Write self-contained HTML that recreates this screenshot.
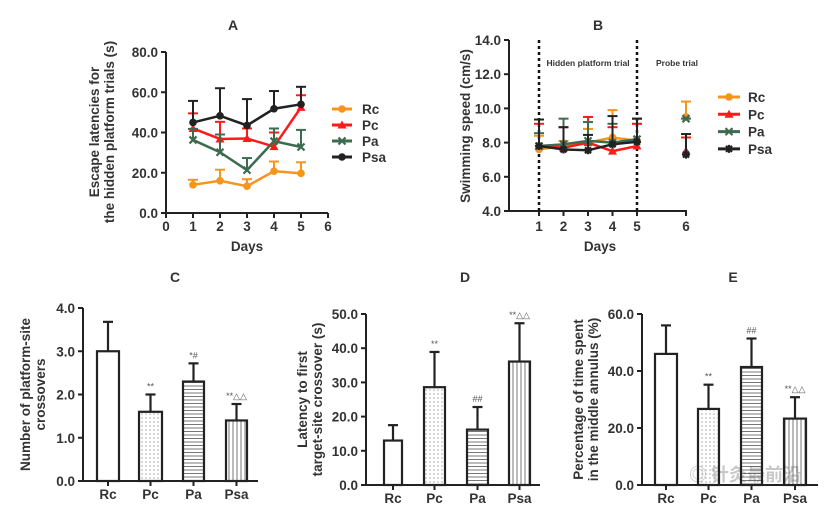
<!DOCTYPE html>
<html><head><meta charset="utf-8"><style>
html,body{margin:0;padding:0;background:#fff}
svg{display:block;font-family:"Liberation Sans",Arial,sans-serif;font-weight:bold}
</style></head><body>
<svg id="fig" width="837" height="512" viewBox="0 0 837 512">
<defs>
<pattern id="dots" width="4" height="4" patternUnits="userSpaceOnUse"><circle cx="2" cy="2" r="0.6" fill="#777"/></pattern>
<pattern id="hlines" width="4" height="3.5" patternUnits="userSpaceOnUse"><line x1="0" y1="1" x2="4" y2="1" stroke="#555" stroke-width="0.8"/></pattern>
<pattern id="vlines" width="4" height="4" patternUnits="userSpaceOnUse"><line x1="1" y1="0" x2="1" y2="4" stroke="#555" stroke-width="0.8"/></pattern>
</defs>
<text x="233" y="30" font-size="14" text-anchor="middle" fill="#333">A</text>
<text x="598" y="30" font-size="14" text-anchor="middle" fill="#333">B</text>
<text x="175" y="282" font-size="14" text-anchor="middle" fill="#333">C</text>
<text x="465" y="282" font-size="14" text-anchor="middle" fill="#333">D</text>
<text x="733" y="282" font-size="14" text-anchor="middle" fill="#333">E</text>
<text x="745" y="481" font-size="18" text-anchor="middle" fill="#bbb" opacity="0.8" font-family="'Noto Sans CJK SC',sans-serif">◎ 针灸最前沿</text>
</svg>
<script>
// ---------- Panel A data ----------
const aDays=[1,2,3,4,5];
const aRc=[14,16,13.3,20.8,19.7];
const aRcErr=[2.5,5.5,3.5,4.8,5.5];
const aPc=[42,36.8,37,33,52.5];
const aPcErr=[7.5,8.5,5,7,6];
const aPa=[36.3,30.2,21.3,35.7,32.8];
const aPaErr=[5.5,8.8,6,6.3,8.5];
const aPsa=[45,48.3,43.5,51.8,54];
const aPsaErr=[10.7,13.7,13.1,8.8,8.7];
const aYTicks=["0.0","20.0","40.0","60.0","80.0"];
const aXTicks=["0","1","2","3","4","5","6"];
// ---------- Panel B data ----------
const bDays=[1,2,3,4,5,6];
const bRc=[7.6,7.8,8.0,8.3,8.1,9.5];
const bRcErr=[0.8,0.3,0.8,1.6,1.0,0.9];
const bPc=[7.8,7.7,8.0,7.5,7.8,7.5];
const bPcErr=[1.3,1.2,1.5,1.4,1.3,0.8];
const bPa=[7.8,7.9,8.1,8.0,8.2,9.4];
const bPaErr=[0.75,1.5,1.1,1.1,1.2,0.0];
const bPsa=[7.8,7.6,7.55,7.9,8.05,7.3];
const bPsaErr=[1.55,1.3,0.9,1.65,1.35,1.2];
const bYTicks=["4.0","6.0","8.0","10.0","12.0","14.0"];
const bXTicks=["1","2","3","4","5","6"];
// ---------- Bar panels ----------
const groups=["Rc","Pc","Pa","Psa"];
const cVals=[3.0,1.6,2.3,1.4];
const cErr=[0.68,0.4,0.42,0.38];
const cSig=["","**","*#","**△△"];
const cTicks=["0.0","1.0","2.0","3.0","4.0"];
const dVals=[13,28.6,16.2,36.1];
const dErr=[4.5,10.3,6.6,11.2];
const dSig=["","**","##","**△△"];
const dTicks=["0.0","10.0","20.0","30.0","40.0","50.0"];
const eVals=[46,26.7,41.4,23.3];
const eErr=[10,8.5,10,7.5];
const eSig=["","**","##","**△△"];
const eTicks=["0.0","20.0","40.0","60.0"];

const NS="http://www.w3.org/2000/svg";
const svg=document.getElementById('fig');
function mk(tag,attrs,parent,name){const e=document.createElementNS(NS,tag);for(const k in attrs)e.setAttribute(k,attrs[k]);(parent||svg).appendChild(e);


return e;}
function txt(s,x,y,attrs,name){const t=mk('text',Object.assign({x:x,y:y,fill:'#333'},attrs||{}),null,name);t.textContent=s;return t;}
const AX='#222';
function marker(px,py,col,t,name){
 if(t==='circle')mk('circle',{cx:px,cy:py,r:3.8,fill:col},null,name);
 else if(t==='tri')mk('polygon',{points:`${px},${py-4.5} ${px-4.5},${py+3.5} ${px+4.5},${py+3.5}`,fill:col},null,name);
 else if(t==='x'){mk('path',{d:`M${px-3.5} ${py-3.5}L${px+3.5} ${py+3.5}M${px-3.5} ${py+3.5}L${px+3.5} ${py-3.5}`,stroke:col,'stroke-width':2.2},null,name);}
 else if(t==='star'){mk('path',{d:`M${px-4} ${py}L${px+4} ${py}M${px} ${py-4}L${px} ${py+4}M${px-3} ${py-3}L${px+3} ${py+3}M${px-3} ${py+3}L${px+3} ${py-3}`,stroke:col,'stroke-width':2.2},null,name);}
}

// ---------- Panel A ----------
(function(){
const x=d=>166+d*27, y=v=>213-v*(161/80);
mk('line',{x1:166,y1:52,x2:166,y2:214,stroke:AX,'stroke-width':2},null,'a-y-axis');
mk('line',{x1:165,y1:213,x2:328,y2:213,stroke:AX,'stroke-width':2},null,'a-x-axis');
aYTicks.forEach((t,i)=>{const v=i*20;mk('line',{x1:161,y1:y(v),x2:166,y2:y(v),stroke:AX,'stroke-width':2},null,'a-y-tick');txt(t,158,y(v)+5,{'font-size':13.5,'text-anchor':'end'},'a-y-tick-label');});
aXTicks.forEach((t,i)=>{mk('line',{x1:x(i),y1:213,x2:x(i),y2:218,stroke:AX,'stroke-width':2},null,'a-x-tick');txt(t,x(i),231,{'font-size':13.5,'text-anchor':'middle'},'a-x-tick-label');});
txt('Days',247,251,{'font-size':13.5,'text-anchor':'middle'},'a-x-axis-title');
const g=mk('g',{transform:'translate(99,132) rotate(-90)'},null,'a-y-axis-title');
const t1=mk('text',{x:0,y:0,'font-size':13.5,'text-anchor':'middle',fill:'#333'},g,'a-y-title-line1');t1.textContent='Escape latencies for';
const t2=mk('text',{x:0,y:15,'font-size':13.5,'text-anchor':'middle',fill:'#333'},g,'a-y-title-line2');t2.textContent='the hidden platform trials (s)';
const series=[['Rc',aRc,aRcErr,'#f7941d','circle'],['Pc',aPc,aPcErr,'#ff1a1a','tri'],['Pa',aPa,aPaErr,'#3d6b4f','x'],['Psa',aPsa,aPsaErr,'#222','circle']];
series.forEach((s,si)=>{
 const [nm,vals,err,col,mkT]=s;
 vals.forEach((v,i)=>{const px=x(aDays[i]);mk('line',{x1:px,y1:y(v),x2:px,y2:y(v+err[i]),stroke:col,'stroke-width':2},null,'a-errorbar-'+nm.toLowerCase());mk('line',{x1:px-5,y1:y(v+err[i]),x2:px+5,y2:y(v+err[i]),stroke:col,'stroke-width':2},null,'a-errorcap-'+nm.toLowerCase());});
 mk('polyline',{points:vals.map((v,i)=>x(aDays[i])+','+y(v)).join(' '),fill:'none',stroke:col,'stroke-width':2.5},null,'a-line-'+nm.toLowerCase());
 vals.forEach((v,i)=>marker(x(aDays[i]),y(v),col,mkT,'a-point-'+nm.toLowerCase()));
 const ly=109+si*16;
 mk('line',{x1:332,y1:ly,x2:352,y2:ly,stroke:col,'stroke-width':3},null,'a-legend-line-'+nm.toLowerCase());
 marker(342,ly,col,mkT,'a-legend-marker-'+nm.toLowerCase());
 txt(nm,362,ly+5,{'font-size':13.5},'a-legend-entry-'+nm.toLowerCase());
});
})();
// ---------- Panel B ----------
(function(){
const x=d=>d<=5?539+(d-1)*24.5:637+(d-5)*49, y=v=>211-(v-4)*17.1;
mk('line',{x1:509,y1:40,x2:509,y2:212,stroke:AX,'stroke-width':2},null,'b-y-axis');
mk('line',{x1:508,y1:211,x2:687,y2:211,stroke:AX,'stroke-width':2},null,'b-x-axis');
bYTicks.forEach((t,i)=>{const v=4+i*2;mk('line',{x1:504,y1:y(v),x2:509,y2:y(v),stroke:AX,'stroke-width':2},null,'b-y-tick');txt(t,501,y(v)+5,{'font-size':13.5,'text-anchor':'end'},'b-y-tick-label');});
bXTicks.forEach((t,i)=>{const d=bDays[i];mk('line',{x1:x(d),y1:211,x2:x(d),y2:216,stroke:AX,'stroke-width':2},null,'b-x-tick');txt(t,x(d),231,{'font-size':13.5,'text-anchor':'middle'},'b-x-tick-label');});
txt('Days',600,251,{'font-size':13.5,'text-anchor':'middle'},'b-x-axis-title');
const g=mk('g',{transform:'translate(470,126) rotate(-90)'},null,'b-y-axis-title');
const t1=mk('text',{x:0,y:0,'font-size':13.5,'text-anchor':'middle',fill:'#333'},g,'b-y-title-text');t1.textContent='Swimming speed (cm/s)';
[1,5].forEach(d=>mk('line',{x1:x(d),y1:40,x2:x(d),y2:211,stroke:'#111','stroke-width':2.5,'stroke-dasharray':'3,3'},null,'b-phase-divider'));
txt('Hidden platform trial',588,66,{'font-size':8.5,'text-anchor':'middle'},'b-hidden-trial-label');
txt('Probe trial',677,66,{'font-size':8.5,'text-anchor':'middle'},'b-probe-trial-label');
const series=[['Rc',bRc,bRcErr,'#f7941d','circle'],['Pc',bPc,bPcErr,'#ff1a1a','tri'],['Pa',bPa,bPaErr,'#3d6b4f','x'],['Psa',bPsa,bPsaErr,'#222','star']];
series.forEach((s,si)=>{
 const [nm,vals,err,col,mkT]=s;
 vals.forEach((v,i)=>{const px=x(bDays[i]);mk('line',{x1:px,y1:y(v),x2:px,y2:y(v+err[i]),stroke:col,'stroke-width':2},null,'b-errorbar-'+nm.toLowerCase());mk('line',{x1:px-5,y1:y(v+err[i]),x2:px+5,y2:y(v+err[i]),stroke:col,'stroke-width':2},null,'b-errorcap-'+nm.toLowerCase());});
 mk('polyline',{points:vals.slice(0,5).map((v,i)=>x(bDays[i])+','+y(v)).join(' '),fill:'none',stroke:col,'stroke-width':2.5},null,'b-line-'+nm.toLowerCase());
 vals.forEach((v,i)=>marker(x(bDays[i]),y(v),col,mkT,'b-point-'+nm.toLowerCase()));
 const ly=97+si*17.3;
 mk('line',{x1:718,y1:ly,x2:740,y2:ly,stroke:col,'stroke-width':3},null,'b-legend-line-'+nm.toLowerCase());
 marker(729,ly,col,mkT,'b-legend-marker-'+nm.toLowerCase());
 txt(nm,748,ly+5,{'font-size':13.5},'b-legend-entry-'+nm.toLowerCase());
});
})();
// ---------- Bar panels ----------
const fills=['#fff','url(#dots)','url(#hlines)','url(#vlines)'];
function barPanel(p,cfg){
 const {ax,x1,y0,yTop,max,ticks,step,vals,err,sig,bars,title,tx}=cfg;
 const y=v=>y0-v*(y0-yTop)/max;
 mk('line',{x1:ax,y1:yTop,x2:ax,y2:y0+1,stroke:AX,'stroke-width':2},null,p+'-y-axis');
 mk('line',{x1:ax-1,y1:y0,x2:x1,y2:y0,stroke:AX,'stroke-width':2},null,p+'-x-axis');
 ticks.forEach((t,i)=>{const v=i*step;mk('line',{x1:ax-5,y1:y(v),x2:ax,y2:y(v),stroke:AX,'stroke-width':2},null,p+'-y-tick');txt(t,ax-8,y(v)+5,{'font-size':13.5,'text-anchor':'end'},p+'-y-tick-label');});
 groups.forEach((gname,i)=>{
  const [bl,br]=bars[i],cx=(bl+br)/2,v=vals[i],e=err[i];
  mk('line',{x1:cx,y1:y(v),x2:cx,y2:y(v+e),stroke:AX,'stroke-width':2.2},null,p+'-errorbar-'+gname.toLowerCase());
  mk('line',{x1:cx-5,y1:y(v+e),x2:cx+5,y2:y(v+e),stroke:AX,'stroke-width':2.2},null,p+'-errorcap-'+gname.toLowerCase());
  mk('rect',{x:bl,y:y(v),width:br-bl,height:y0-y(v),fill:fills[i],stroke:AX,'stroke-width':2.2},null,p+'-bar-'+gname.toLowerCase());
  mk('line',{x1:cx,y1:y0,x2:cx,y2:y0+5,stroke:AX,'stroke-width':2},null,p+'-x-tick');
  txt(gname,cx,y0+18,{'font-size':13.5,'text-anchor':'middle'},p+'-x-tick-label');
  if(sig[i])txt(sig[i],cx,y(v+e)-5,{'font-size':9,'text-anchor':'middle',fill:'#555','font-weight':'normal'},p+'-significance-'+gname.toLowerCase());
 });
 const g=mk('g',{transform:`translate(${tx},${(y0+yTop)/2}) rotate(-90)`},null,p+'-y-axis-title');
 title.forEach((l,i)=>{const t=mk('text',{x:0,y:i*15,'font-size':13.5,'text-anchor':'middle',fill:'#333'},g,p+'-y-title-line'+(i+1));t.textContent=l;});
}
barPanel('c',{ax:83,x1:258,y0:481,yTop:308,max:4,ticks:cTicks,step:1,vals:cVals,err:cErr,sig:cSig,bars:[[97,119],[139,162],[183,204],[226,247]],title:['Number of platform-site','crossovers'],tx:30});
barPanel('d',{ax:366,x1:540,y0:485,yTop:314,max:50,ticks:dTicks,step:10,vals:dVals,err:dErr,sig:dSig,bars:[[384,402],[424,445],[467,488],[509,530]],title:['Latency to first','target-site crossover (s)'],tx:307});
barPanel('e',{ax:642,x1:818,y0:485,yTop:314,max:60,ticks:eTicks,step:20,vals:eVals,err:eErr,sig:eSig,bars:[[655,677],[698,719],[741,762],[784,806]],title:['Percentage of time spent','in the middle annulus (%)'],tx:583});
</script>
</body></html>
